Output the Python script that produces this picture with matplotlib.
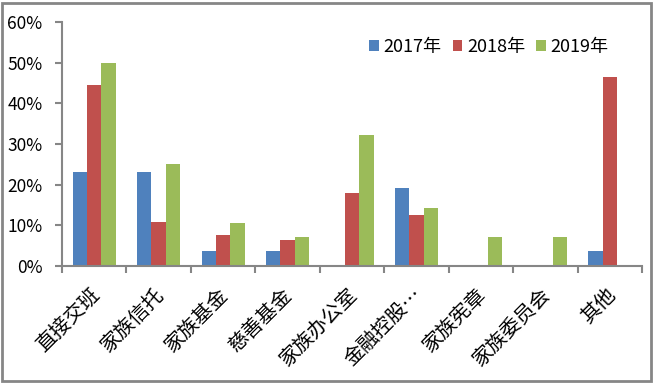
import matplotlib
matplotlib.use("Agg")
import matplotlib.pyplot as plt
import numpy as np
from matplotlib.patches import Rectangle

plt.rcParams['font.family'] = ['Noto Sans CJK SC', 'DejaVu Sans']

categories = ['直接交班', '家族信托', '家族基金', '慈善基金', '家族办公室', '金融控股…', '家族宪章', '家族委员会', '其他']
series_names = ['2017年', '2018年', '2019年']
v2017 = [23.1, 23.1, 3.8, 3.8, 0, 19.2, 0, 0, 3.8]
v2018 = [44.4, 10.7, 7.6, 6.3, 17.9, 12.5, 0, 0, 46.4]
v2019 = [50.0, 25.0, 10.5, 7.1, 32.1, 14.3, 7.1, 7.1, 0]
colors = ['#4F81BD', '#C0504D', '#9BBB59']

fig = plt.figure(figsize=(6.53, 3.83), dpi=100)
ax = fig.add_axes([62/653, 1-266/383, (642-62)/653, (266-22)/383])

x = np.arange(len(categories))
w = 0.223
for i, (vals, name) in enumerate(zip([v2017, v2018, v2019], series_names)):
    ax.bar(x + (i-1)*w, vals, width=w, color=colors[i], label=name)

ax.set_xlim(-0.5, len(categories)-0.5)
ax.set_ylim(0, 60)
ax.set_yticks(np.arange(0, 61, 10))
ax.set_yticklabels([f'{v}%' for v in range(0, 61, 10)])
for s in ['top', 'right']:
    ax.spines[s].set_visible(False)
for s in ['left', 'bottom']:
    ax.spines[s].set_color('#868686')
    ax.spines[s].set_linewidth(1.5)
ax.tick_params(axis='y', colors='#868686', labelcolor='black', length=5, width=1.5, labelsize=12.5, pad=9)
ax.set_xticks(np.arange(-0.5, len(categories)+0.5, 1))
ax.set_xticklabels([])
ax.tick_params(axis='x', colors='#868686', length=5, width=1.5)
for xi, c in zip(x, categories):
    ax.annotate(c, xy=(xi - 0.08, 0), xycoords=('data', 'axes fraction'),
                xytext=(0, -13), textcoords='offset points',
                rotation=45, ha='right', va='top', fontsize=14.5,
                rotation_mode='anchor')

leg = ax.legend(loc='upper right', bbox_to_anchor=(0.97, 1.0), ncol=3, frameon=False,
                fontsize=13, handlelength=0.55, handleheight=0.55, handletextpad=0.25,
                columnspacing=0.6)

fig.patches.append(Rectangle((2/653, 2/383), 649/653, 378/383, transform=fig.transFigure,
                             fill=False, edgecolor='#868686', linewidth=2))
fig.savefig('out.png', dpi=100)
